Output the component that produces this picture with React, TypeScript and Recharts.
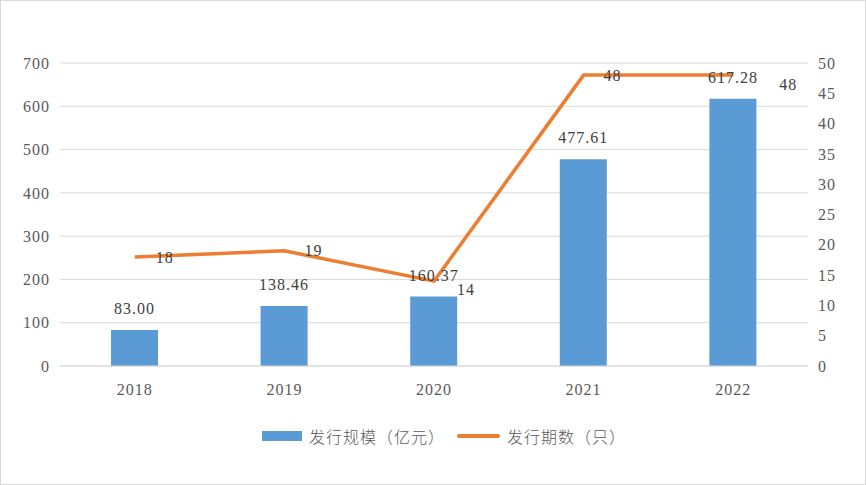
import {
  Bar,
  CartesianGrid,
  ComposedChart,
  LabelList,
  Legend,
  Line,
  XAxis,
  YAxis,
} from "recharts"

const years = ["2018", "2019", "2020", "2021", "2022"]
const scale = [83.0, 138.46, 160.37, 477.61, 617.28]
const issues = [18, 19, 14, 48, 48]
const leftTicks = [0, 100, 200, 300, 400, 500, 600, 700]
const rightTicks = [0, 5, 10, 15, 20, 25, 30, 35, 40, 45, 50]

const data = years.map((y, i) => ({
  year: y,
  scale: scale[i],
  issues: issues[i],
}))

const numFont = "'Liberation Serif', 'DejaVu Serif', serif"
const cjkFont = "'Noto Sans CJK SC', 'Noto Sans', sans-serif"

const tickStyle = {
  fill: "#595959",
  fontSize: 16,
  fontFamily: numFont,
  letterSpacing: 1,
}

// nudges so the line labels don't sit on the bar labels
const lineLabelShift = [
  [21, 0],
  [20, 0],
  [23, 8],
  [20, 0],
  [46, 9],
]

const LineLabel = (props: any) => {
  const { x, y, value, index } = props
  const [dx, dy] = lineLabelShift[index] || [20, 0]
  return (
    <text
      x={x + dx}
      y={y + dy}
      dy="0.35em"
      textAnchor="start"
      fill="#404040"
      fontSize={16}
      fontFamily={numFont}
      letterSpacing={1}
    >
      {value}
    </text>
  )
}

const LegendContent = () => (
  <div
    style={{
      display: "flex",
      justifyContent: "center",
      alignItems: "center",
      fontFamily: cjkFont,
      fontSize: 16,
      letterSpacing: 1,
      color: "#595959",
      fontWeight: 300,
      paddingLeft: 22,
    }}
  >
    <span
      style={{ width: 40, height: 10, background: "#5B9BD5", marginRight: 7 }}
    />
    <span style={{ marginRight: 12 }}>发行规模（亿元）</span>
    <span
      style={{
        width: 43,
        height: 4,
        borderRadius: 2,
        background: "#ED7D31",
        marginRight: 7,
      }}
    />
    <span>发行期数（只）</span>
  </div>
)

export default function App() {
  return (
    <div
      style={{
        position: "absolute",
        left: 0,
        top: 0,
        width: 864,
        height: 483,
        border: "1px solid #D9D9D9",
        background: "#fff",
      }}
    >
      <ComposedChart
        width={864}
        height={483}
        data={data}
        margin={{ top: 62, right: 0, bottom: 88, left: -1 }}
      >
        <CartesianGrid
          yAxisId="left"
          vertical={false}
          stroke="#D9D9D9"
          strokeWidth={1}
        />
        <XAxis
          dataKey="year"
          axisLine={{ stroke: "#D9D9D9" }}
          tickLine={false}
          tick={tickStyle}
          tickMargin={12}
          height={30}
          interval={0}
        />
        <YAxis
          yAxisId="left"
          domain={[0, 700]}
          ticks={leftTicks}
          axisLine={false}
          tickLine={false}
          tickSize={0}
          tickMargin={10}
          width={60}
          tick={tickStyle}
        />
        <YAxis
          yAxisId="right"
          orientation="right"
          domain={[0, 50]}
          ticks={rightTicks}
          axisLine={false}
          tickLine={false}
          tickSize={0}
          tickMargin={10}
          width={57}
          tick={tickStyle}
        />
        <Legend
          verticalAlign="middle"
          align="center"
          wrapperStyle={{ top: 423, left: 0, width: 864 }}
          content={<LegendContent />}
        />
        <Bar
          yAxisId="left"
          dataKey="scale"
          fill="#5B9BD5"
          barSize={47}
          isAnimationActive={false}
        >
          <LabelList
            dataKey="scale"
            position="top"
            offset={16}
            formatter={(v: number) => v.toFixed(2)}
            style={{
              fill: "#404040",
              fontSize: 16,
              fontFamily: numFont,
              letterSpacing: 1,
            }}
          />
        </Bar>
        <Line
          yAxisId="right"
          dataKey="issues"
          stroke="#ED7D31"
          strokeWidth={3.5}
          dot={false}
          activeDot={false}
          isAnimationActive={false}
        >
          <LabelList dataKey="issues" content={<LineLabel />} />
        </Line>
      </ComposedChart>
    </div>
  )
}
